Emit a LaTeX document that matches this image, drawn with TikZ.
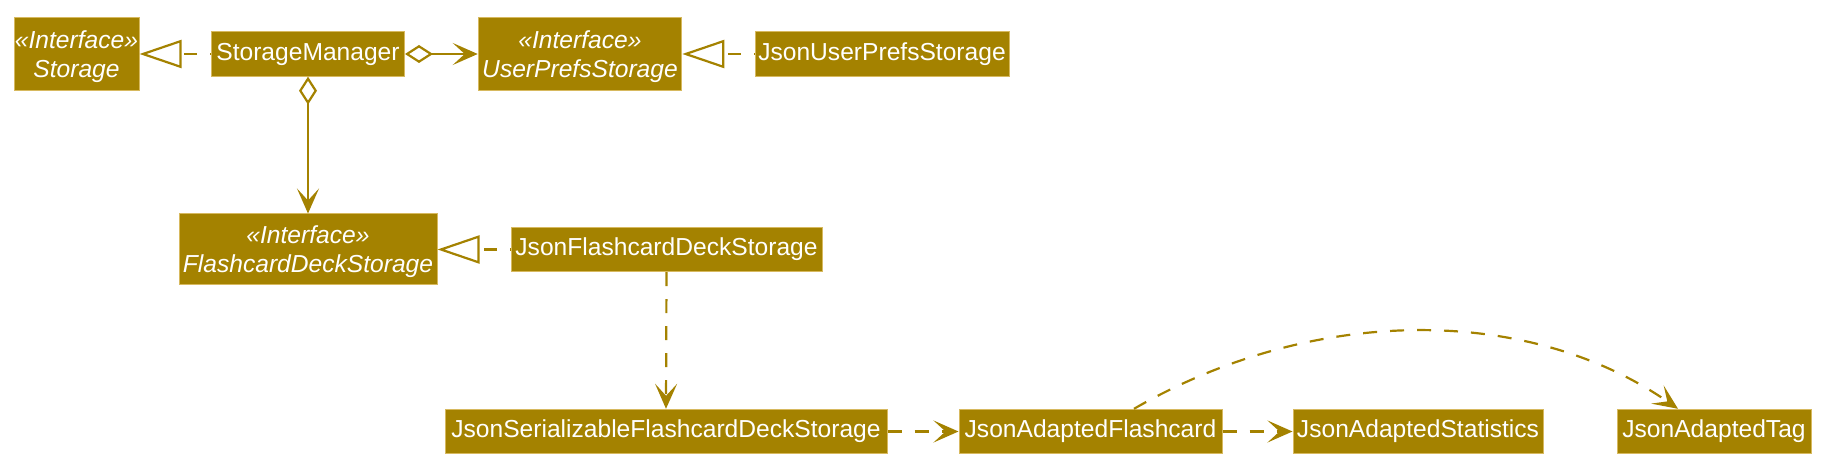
\documentclass[tikz,border=0pt]{standalone}
\usepackage{fontspec}
\setmainfont{Liberation Sans}
\usetikzlibrary{arrows.meta}
\definecolor{gold}{RGB}{164,130,0}
\definecolor{goldedge}{RGB}{215,185,95}
\begin{document}
\begin{tikzpicture}[x=0.5pt,y=-0.5pt,
  cls/.style={fill=gold, draw=goldedge, line width=0.5pt, text=white, inner sep=0pt,
    minimum height=22.2pt, font=\fontsize{12.3}{14.5}\selectfont},
  iface/.style={cls, align=center, minimum height=36.25pt, text depth=0pt,
    font=\fontsize{12.3}{14.5}\selectfont\itshape},
  conn/.style={draw=gold, line width=1.1pt},
  headtip/.style={-{Stealth[length=12.5pt,width=11pt,inset=6pt]}},
  dep/.style={conn, dash pattern=on 7pt off 6.5pt, headtip},
  real/.style={conn, dash pattern=on 6.5pt off 6.5pt, dash phase=6pt,
    -{Triangle[open,length=21pt,width=14pt,fill=white]}},
  aggr/.style={conn, {Diamond[open,length=14pt,width=9pt,fill=white]}-{Stealth[length=12.5pt,width=11pt,inset=6pt]}}
]
\useasboundingbox (0,0) rectangle (1833,475);

\node[iface, minimum width=62.5pt] (storage) at (76.5,54) {«Interface»\\Storage};
\node[cls, minimum width=96.5pt] (sm) at (308,54) {StorageManager};
\node[iface, minimum width=101.75pt] (ups) at (580,54) {«Interface»\\UserPrefsStorage};
\node[cls, minimum width=127pt] (jups) at (882,54) {JsonUserPrefsStorage};
\node[iface, minimum width=129pt, minimum height=35.5pt] (fds) at (308,249.5) {«Interface»\\FlashcardDeckStorage};
\node[cls, minimum width=155.5pt] (jfds) at (666.5,249.5) {JsonFlashcardDeckStorage};
\node[cls, minimum width=221pt] (jsfds) at (666,431.5) {JsonSerializableFlashcardDeckStorage};
\node[cls, minimum width=131.5pt] (jaf) at (1090.5,431.5) {JsonAdaptedFlashcard};
\node[cls, minimum width=125pt] (jas) at (1418,431.5) {JsonAdaptedStatistics};
\node[cls, minimum width=97pt] (jat) at (1714,431.5) {JsonAdaptedTag};

\draw[real] (sm.west) -- (storage.east);
\draw[aggr] (sm.east) -- (ups.west);
\draw[aggr] (sm.south) -- (fds.north);
\draw[real] (jups.west) -- (ups.east);
\draw[real] (jfds.west) -- (fds.east);
\draw[dep] (jfds.south) -- (jsfds.north);
\draw[dep] (jsfds.east) -- (jaf.west);
\draw[dep] (jaf.east) -- (jas.west);
\draw[dep] ([xshift=21.75pt]jaf.north) .. controls (1314,305) and (1528,305) .. ([xshift=-18pt]jat.north);
\end{tikzpicture}
\end{document}
